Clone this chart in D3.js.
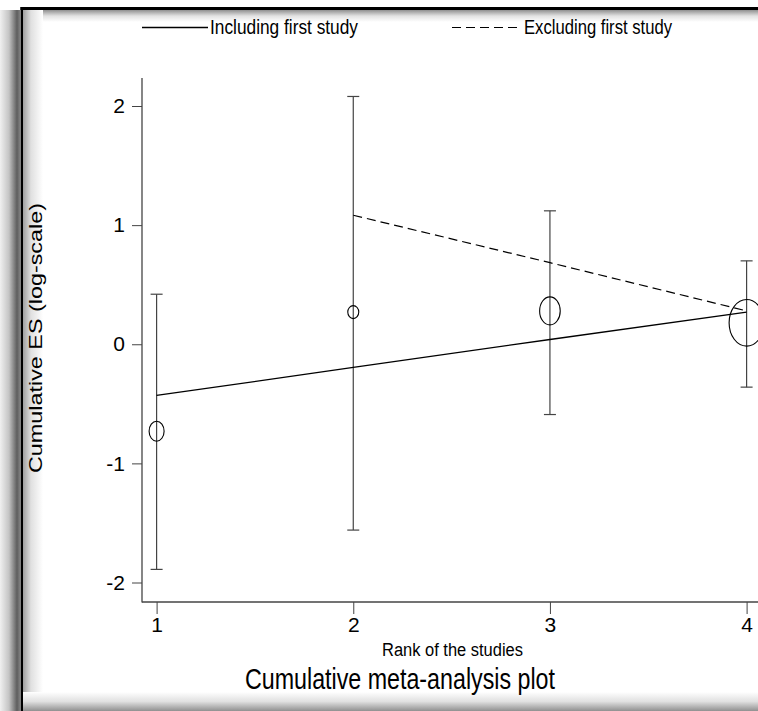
<!DOCTYPE html>
<html><head><meta charset="utf-8">
<script src="https://cdn.jsdelivr.net/npm/d3@7"></script>
<style>html,body{margin:0;padding:0;background:#fff;overflow:hidden;width:758px;height:711px;}svg{display:block;}</style>
</head><body>
<script>
// Data
const ranks = [1, 2, 3, 4];
const studyES = [-0.73, 0.27, 0.28, 0.18];
const ciLow = [-1.89, -1.56, -0.59, -0.36];
const ciHigh = [0.42, 2.08, 1.12, 0.70];
const weightRx = [7.5, 5.5, 10.3, 17.5];
const weightRy = [10, 6.5, 14, 23.3];
const includingES = [-0.43, -0.195, 0.04, 0.27];
const excludingRanks = [2, 3, 4];
const excludingES = [1.083, 0.685, 0.28];
const yTicks = [-2, -1, 0, 1, 2];
const xTicks = [1, 2, 3, 4];
const legendLabels = ["Including first study", "Excluding first study"];
const xTitle = "Rank of the studies";
const yTitle = "Cumulative ES (log-scale)";
const chartTitle = "Cumulative meta-analysis plot";

const W = 758, H = 711;
const narrow = "'Liberation Sans Narrow','Arial Narrow','Liberation Sans',Arial,sans-serif";
const svg = d3.select("body").append("svg").attr("width", W).attr("height", H);
const defs = svg.append("defs");

function lg(id, x1, y1, x2, y2, stops) {
  const g = defs.append("linearGradient").attr("id", id)
    .attr("x1", x1).attr("y1", y1).attr("x2", x2).attr("y2", y2);
  stops.forEach(s => g.append("stop").attr("offset", s[0]).attr("stop-color", s[1]));
}
lg("leftStrip", 0, 0, 1, 0, [[0, "#f0f0f0"], [0.45, "#c4c4c4"], [0.85, "#5e5e5e"], [1, "#808080"]]);
lg("leftShadow", 0, 0, 1, 0, [[0, "#a0a0a0"], [0.4, "#e0e0e0"], [1, "#ffffff"]]);
lg("topShadow", 0, 0, 0, 1, [[0, "#909090"], [0.5, "#e2e2e2"], [1, "#ffffff"]]);
lg("bottomShadow", 0, 0, 0, 1, [[0, "#ffffff"], [0.5, "#e0e0e0"], [1, "#909090"]]);

// frame decoration
svg.append("rect").attr("x", 0).attr("y", 10).attr("width", 20).attr("height", H - 10).attr("fill", "url(#leftStrip)");
svg.append("rect").attr("x", 23).attr("y", 10).attr("width", W - 23).attr("height", 12).attr("fill", "url(#topShadow)");
svg.append("rect").attr("x", 23).attr("y", 10).attr("width", 20).attr("height", H - 10).attr("fill", "url(#leftShadow)");
svg.append("rect").attr("x", 23).attr("y", 692).attr("width", W - 23).attr("height", 19).attr("fill", "url(#bottomShadow)");
svg.append("rect").attr("x", 20.5).attr("y", 7).attr("width", W - 20.5).attr("height", 3).attr("fill", "#000");
svg.append("rect").attr("x", 20.5).attr("y", 7).attr("width", 2.5).attr("height", H - 7).attr("fill", "#000");

// scales
const x = d3.scaleLinear().domain([1, 4]).range([156.6, 746.6]);
const y = d3.scaleLinear().domain([-2, 2]).range([582.5, 106]);
const axisX = 142, axisY = 602, axisTop = 78;

// axes
const yAx = svg.append("g").attr("transform", `translate(${axisX},0)`)
  .call(d3.axisLeft(y).tickValues(yTicks).tickSize(10).tickPadding(7).tickFormat(d3.format("d")));
yAx.select(".domain").remove();
yAx.selectAll(".tick line").attr("stroke", "#444");
yAx.selectAll(".tick text").attr("font-family", narrow).attr("font-size", 21).attr("fill", "#000").text(d => d < 0 ? "-" + Math.abs(d) : d);
svg.append("line").attr("x1", axisX).attr("x2", axisX).attr("y1", axisTop).attr("y2", axisY + 0.5).attr("stroke", "#444").attr("stroke-width", 1.3);

const xAx = svg.append("g").attr("transform", `translate(0,${axisY})`)
  .call(d3.axisBottom(x).tickValues(xTicks).tickSize(12).tickPadding(3).tickFormat(d3.format("d")));
xAx.select(".domain").remove();
xAx.selectAll(".tick line").attr("stroke", "#444");
xAx.selectAll(".tick text").attr("font-family", narrow).attr("font-size", 21).attr("fill", "#000");
svg.append("line").attr("x1", axisX).attr("x2", W).attr("y1", axisY).attr("y2", axisY).attr("stroke", "#444").attr("stroke-width", 1.3);

// CI bars
const ci = svg.append("g").attr("stroke", "#444").attr("stroke-width", 1.2).attr("fill", "none");
ranks.forEach((r, i) => {
  ci.append("line").attr("x1", x(r)).attr("x2", x(r)).attr("y1", y(ciLow[i])).attr("y2", y(ciHigh[i]));
  ci.append("line").attr("x1", x(r) - 6).attr("x2", x(r) + 6).attr("y1", y(ciLow[i])).attr("y2", y(ciLow[i]));
  ci.append("line").attr("x1", x(r) - 6).attr("x2", x(r) + 6).attr("y1", y(ciHigh[i])).attr("y2", y(ciHigh[i]));
});

// cumulative lines
const line = d3.line().x(d => x(d[0])).y(d => y(d[1]));
svg.append("path").attr("d", line(ranks.map((r, i) => [r, includingES[i]])))
  .attr("fill", "none").attr("stroke", "#000").attr("stroke-width", 1.3);
svg.append("path").attr("d", line(excludingRanks.map((r, i) => [r, excludingES[i]])))
  .attr("fill", "none").attr("stroke", "#000").attr("stroke-width", 1.2).attr("stroke-dasharray", "9,5");

// study ellipses
svg.append("g").selectAll("ellipse").data(ranks).join("ellipse")
  .attr("cx", d => x(d)).attr("cy", (d, i) => y(studyES[i]))
  .attr("rx", (d, i) => weightRx[i]).attr("ry", (d, i) => weightRy[i])
  .attr("fill", "none").attr("stroke", "#000").attr("stroke-width", 1.1);

// legend
svg.append("line").attr("x1", 142).attr("x2", 208).attr("y1", 27.5).attr("y2", 27.5).attr("stroke", "#000").attr("stroke-width", 1.3);
svg.append("line").attr("x1", 452).attr("x2", 522).attr("y1", 27.5).attr("y2", 27.5).attr("stroke", "#000").attr("stroke-width", 1.2).attr("stroke-dasharray", "9,5");
svg.append("text").attr("x", 210).attr("y", 33.5).attr("font-family", narrow).attr("font-size", 21)
  .attr("textLength", 148).attr("lengthAdjust", "spacingAndGlyphs").text(legendLabels[0]);
svg.append("text").attr("x", 524).attr("y", 33.5).attr("font-family", narrow).attr("font-size", 21)
  .attr("textLength", 148).attr("lengthAdjust", "spacingAndGlyphs").text(legendLabels[1]);

// titles
svg.append("text").attr("x", 382).attr("y", 656).attr("font-family", narrow).attr("font-size", 18)
  .attr("textLength", 141).attr("lengthAdjust", "spacingAndGlyphs").text(xTitle);
svg.append("text").attr("x", 245).attr("y", 689).attr("font-family", narrow).attr("font-size", 29)
  .attr("textLength", 310).attr("lengthAdjust", "spacingAndGlyphs").text(chartTitle);
svg.append("text").attr("transform", "translate(42,473) rotate(-90)")
  .attr("font-family", "'Liberation Sans',Arial,sans-serif").attr("font-size", 18)
  .attr("textLength", 270).attr("lengthAdjust", "spacingAndGlyphs").text(yTitle);
</script>
</body></html>
